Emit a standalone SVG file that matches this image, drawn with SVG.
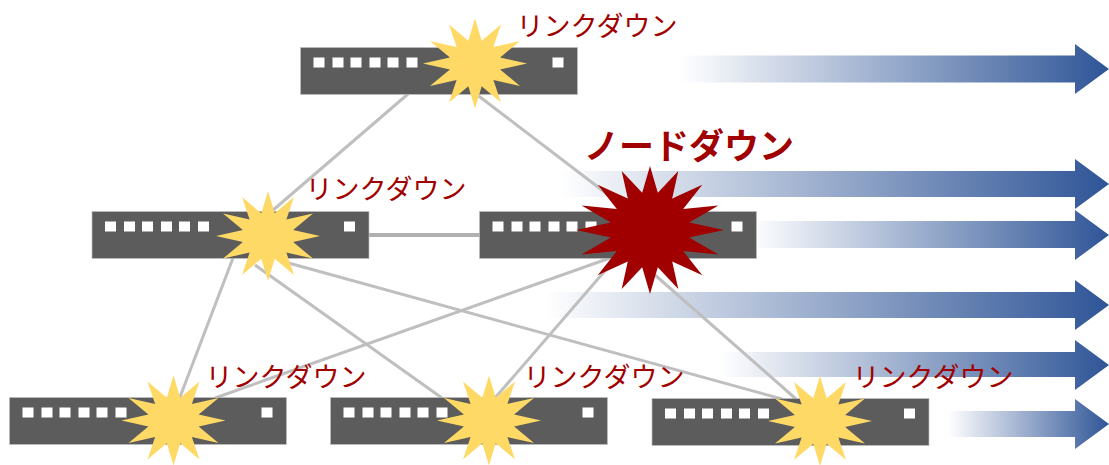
<svg xmlns="http://www.w3.org/2000/svg" width="1109" height="465" viewBox="0 0 1109 465">
<style>
.link{stroke:#bfbfbf;stroke-width:3;fill:none}
.body{fill:#5c5c5c;stroke:#bfbfbf;stroke-width:.7}
.port{fill:#fff}
.burst{fill:#ffd966}
.down{fill:#a00000}
text{font-family:"Noto Sans CJK JP","Noto Sans",sans-serif;fill:#a00000}
.lbl{font-size:27px}
.big{font-size:35px;font-weight:700}
</style>
<defs>
<linearGradient id="g" x1="0" x2="1" y1="0" y2="0"><stop offset="0" stop-color="#2f5597" stop-opacity="0"/><stop offset="1" stop-color="#2f5597"/></linearGradient>
<g id="sw">
<rect class="body" width="277" height="47"/>
<rect class="port" x="13" y="10" width="11" height="10"/><rect class="port" x="32" y="10" width="11" height="10"/><rect class="port" x="50" y="10" width="11" height="10"/><rect class="port" x="69" y="10" width="11" height="10"/><rect class="port" x="87" y="10" width="11" height="10"/><rect class="port" x="106" y="10" width="11" height="10"/><rect class="port" x="252" y="10" width="11" height="10"/>
</g>
<polygon id="star" class="burst" points="0,-45 6.7,-22.7 26,-39 18.4,-16.6 45,-22.5 25.1,-6.1 52,0 25.1,6.1 45,22.5 18.4,16.6 26,39 6.7,22.7 0,45 -6.7,22.7 -26,39 -18.4,16.6 -45,22.5 -25.1,6.1 -52,0 -25.1,-6.1 -45,-22.5 -18.4,-16.6 -26,-39 -6.7,-22.7"/>
</defs>
<g id="arrows" fill="url(#g)">
<polygon id="arrow1" points="680,55.500 1075,55.500 1075,44 1109,69 1075,94 1075,82.500 680,82.500"/>
<polygon id="arrow2" points="560,171 1075,171 1075,159 1109,184 1075,209 1075,197 560,197"/>
<polygon id="arrow3" points="750,221 1075,221 1075,210 1109,235 1075,260 1075,248 750,248"/>
<polygon id="arrow4" points="545,292 1075,292 1075,280 1109,305 1075,330 1075,318 545,318"/>
<polygon id="arrow5" points="720,352 1075,352 1075,340 1109,365 1075,390 1075,377 720,377"/>
<polygon id="arrow6" points="948,411 1075,411 1075,399 1109,424 1075,449 1075,437 948,437"/>
</g>
<g id="connectors">
<line class="link" x1="408" y1="94" x2="272" y2="211"/>
<line class="link" x1="476" y1="94" x2="615" y2="200"/>
<line class="link" x1="368" y1="235" x2="480" y2="235" style="stroke:#b0b0b0;stroke-width:4"/>
<line class="link" x1="233" y1="258" x2="180" y2="397"/>
<line class="link" x1="255" y1="265" x2="442" y2="398"/>
<line class="link" x1="285" y1="262" x2="782" y2="399"/>
<line class="link" x1="610" y1="258" x2="215" y2="398"/>
<line class="link" x1="610" y1="265" x2="495" y2="398"/>
<line class="link" x1="655" y1="275" x2="796" y2="399"/>
</g>
<g id="node-top"><use href="#sw" x="300.500" y="47.500"/><use href="#star" x="475" y="63.500"/></g>
<g id="node-left"><use href="#sw" x="92" y="211.500"/><use href="#star" x="268" y="236"/></g>
<g id="node-center"><use href="#sw" x="479.500" y="211.500"/>
<polygon class="down" transform="translate(650 230)" points="0,-64 7.800,-37.300 28.300,-59.100 22.200,-31.600 52.300,-45.300 33.200,-21.100 68.400,-24.500 39.200,-7.400 74,0 39.200,7.400 68.400,24.500 33.200,21.100 52.300,45.300 22.200,31.600 28.300,59.100 7.800,37.300 0,64 -7.800,37.300 -28.300,59.100 -22.200,31.600 -52.300,45.300 -33.200,21.100 -68.400,24.500 -39.200,7.400 -74,0 -39.200,-7.400 -68.400,-24.500 -33.200,-21.100 -52.300,-45.300 -22.200,-31.600 -28.300,-59.100 -7.800,-37.300"/></g>
<g id="node-bl"><use href="#sw" x="9.500" y="397.500"/><use href="#star" x="173.500" y="420.500"/></g>
<g id="node-bm"><use href="#sw" x="330.500" y="397.500"/><use href="#star" x="489" y="420.500"/></g>
<g id="node-br"><use href="#sw" x="652" y="398.500"/><use href="#star" x="820" y="421"/></g>
<g id="labels">
<text class="lbl" x="516.500" y="36">リンクダウン</text>
<text class="lbl" x="305.500" y="199">リンクダウン</text>
<text class="lbl" x="205.500" y="387">リンクダウン</text>
<text class="lbl" x="523.500" y="387">リンクダウン</text>
<text class="lbl" x="852.500" y="387">リンクダウン</text>
<text class="big" x="584" y="159">ノードダウン</text>
</g>
</svg>
